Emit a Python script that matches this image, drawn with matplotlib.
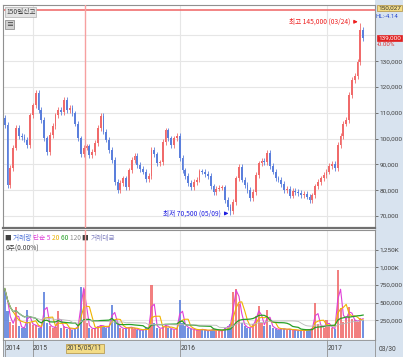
import matplotlib
matplotlib.use("Agg")
import matplotlib.pyplot as plt
from matplotlib.patches import Rectangle
import pandas as pd
import numpy as np

plt.rcParams['font.family'] = ['Noto Sans CJK KR', 'DejaVu Sans']
NARROW = ['Liberation Sans Narrow', 'Roboto', 'DejaVu Sans']

# weekly closes (thousand won), 2014-10-24 .. 2017-03-30
close = [105.3, 82.0, 88.6, 96.4, 104.1, 101.0, 100.6, 99.5, 97.5, 109.1,
         113.0, 117.7, 111.1, 107.2, 100.2, 94.8, 101.4, 104.9, 109.1, 111.1,
         110.3, 115.0, 111.1, 111.9, 109.9, 105.7, 100.2, 94.0, 96.4, 97.1,
         93.6, 94.8, 98.3, 104.1, 108.8, 102.6, 99.5, 95.6, 91.7, 83.2,
         80.1, 82.8, 84.7, 81.2, 87.8, 91.7, 93.3, 89.8, 88.2, 87.1,
         84.3, 85.5, 95.6, 94.0, 90.5, 90.9, 98.7, 103.3, 100.2, 97.5,
         100.2, 101.0, 92.5, 87.8, 85.5, 82.8, 81.2, 83.2, 84.0, 87.4,
         87.1, 86.3, 85.5, 81.6, 79.3, 80.5, 80.9, 81.2, 76.2, 73.5,
         71.9, 75.4, 84.7, 89.0, 84.0, 82.0, 80.1, 77.0, 79.3, 85.9,
         90.5, 91.3, 90.9, 94.4, 89.4, 87.1, 84.7, 84.0, 82.4, 80.1,
         80.5, 77.8, 79.7, 79.3, 78.9, 78.1, 78.5, 77.4, 76.2, 78.1,
         81.6, 83.2, 84.7, 85.9, 87.1, 89.4, 90.2, 88.6, 97.5, 101.0,
         105.7, 107.2, 116.9, 122.7, 124.3, 129.7, 142.1, 139.0]
first_open = 108.0

# weekly volume (thousand shares)
volume = [700, 380, 230, 190, 440, 170, 150, 140, 400, 210,
          190, 180, 150, 140, 650, 220, 170, 150, 160, 380,
          140, 170, 130, 140, 120, 150, 170, 720, 700, 210,
          150, 130, 140, 170, 190, 160, 150, 170, 466, 260,
          180, 150, 130, 140, 160, 150, 130, 120, 110, 120,
          140, 130, 750, 210, 150, 130, 160, 200, 140, 130,
          120, 140, 540, 220, 170, 140, 130, 120, 110, 120,
          130, 110, 100, 120, 130, 110, 100, 110, 150, 170,
          200, 650, 700, 480, 220, 170, 140, 150, 200, 320,
          450, 210, 170, 400, 190, 150, 130, 120, 140, 130,
          120, 130, 110, 120, 100, 110, 120, 110, 130, 140,
          494, 200, 170, 150, 250, 170, 140, 130, 960, 420,
          230, 300, 440, 270, 250, 230, 290, 260]

dates = pd.date_range("2014-10-24", periods=len(close), freq="7D")
year_marks = ["2015-01-01", "2016-01-01", "2017-01-01"]
cursor_date = "2015-05-11"

hi_val, hi_date = 145.0, "03/24"
lo_val, lo_date = 70.5, "05/09"
line_150 = 150.027
last_close = 139.0

price_ticks = [70, 80, 90, 100, 110, 120, 130]
vol_ticks = [250, 500, 750, 1000, 1250]
vol_tick_labels = ["250,000", "500,000", "750,000", "1,000K", "1,250K"]


def date_pos(d):
    return (pd.Timestamp(d) - dates[0]).days / 7.0


W, H = 403, 357
fig = plt.figure(figsize=(W / 100, H / 100), dpi=100)
fig.patch.set_facecolor("white")

# right axis strip
fig.add_artist(Rectangle((375 / W, 0), 28 / W, 1, transform=fig.transFigure,
                         facecolor="#d8e3ef", edgecolor="none", zorder=0))

ax = fig.add_axes([3 / W, 1 - 228 / H, 372 / W, 223 / H])
axv = fig.add_axes([3 / W, 1 - 340 / H, 372 / W, 110 / H])
axd = fig.add_axes([3 / W, 0, 372 / W, 17 / H])

xs = np.arange(len(close))
opens = [first_open] + close[:-1]
up = [c >= o for o, c in zip(opens, close)]
red, blue = "#f06a6a", "#5b7fdc"
cols = [red if u else blue for u in up]

x0, x1 = -0.6, 131.2
for a in (ax, axv, axd):
    a.set_xlim(x0, x1)

# price candles
bot = [min(o, c) for o, c in zip(opens, close)]
top = [max(o, c) for o, c in zip(opens, close)]
hgt = [max(t - b, 0.3) for t, b in zip(top, bot)]
wlo = [b - 1.0 for b in bot]
whi = [t + 1.0 for t in top]
ih = int(np.argmax(close))
il = int(np.argmin(close))
whi[ih] = hi_val
wlo[il] = lo_val
ax.vlines(xs, wlo, whi, colors=cols, linewidth=0.6, zorder=3)
ax.bar(xs, hgt, bottom=bot, width=0.65, color=cols, linewidth=0, zorder=4)

ax.set_ylim(65.35, 151.8)
for p in range(70, 150, 10):
    ax.axhline(p, color="#e6e6e6", linewidth=0.8, zorder=1)
for d in year_marks:
    for a in (ax, axv):
        a.axvline(date_pos(d), color="#e6e6e6", linewidth=0.8, zorder=1)
ax.axhline(line_150, color="#f07070", linewidth=1.2, zorder=2)
for a in (ax, axv):
    a.axvline(date_pos(cursor_date), color="#f6a0a0", linewidth=1.0, zorder=5)

ax.set_yticks(price_ticks)
ax.set_yticklabels([f"{p * 1000:,}" for p in price_ticks], family=NARROW)
ax.yaxis.tick_right()
ax.tick_params(axis="y", length=2.5, width=0.6, colors="#606060",
               labelsize=4.6, pad=0.8, labelcolor="#404040")
ax.set_xticks([])

# annotations for high/low
ax.annotate("", xy=(ih + 0.1, hi_val + 0.3), xytext=(ih - 3.2, hi_val + 0.3),
            arrowprops=dict(arrowstyle="-|>", color="#ee2020", lw=0.8,
                            mutation_scale=5), zorder=6)
ax.text(ih - 3.6, hi_val + 0.3, f"최고 {hi_val * 1000:,.0f} ({hi_date})",
        color="#ee2020", fontsize=4.8, ha="right", va="center")
ax.annotate("", xy=(il + 0.3, lo_val + 0.5), xytext=(il - 3.0, lo_val + 0.5),
            arrowprops=dict(arrowstyle="-|>", color="#2020e0", lw=0.8,
                            mutation_scale=5), zorder=6)
ax.text(il - 3.4, lo_val + 0.5, f"최저 {lo_val * 1000:,.0f} ({lo_date})",
        color="#2020e0", fontsize=4.8, ha="right", va="center")

# right side boxes
fig.text(378 / W, 1 - 8 / H, f"{line_150 * 1000:,.0f}", fontsize=4.6,
         family=NARROW, color="#303030", va="center",
         bbox=dict(boxstyle="square,pad=0.15", facecolor="#f3dc86",
                   edgecolor="#b09040", linewidth=0.5))
fig.text(376 / W, 1 - 16 / H, "HL:-4.14", fontsize=4.4, family=NARROW,
         color="#3050d0", va="center")
fig.text(378 / W, 1 - 38 / H, f"{last_close * 1000:,.0f}", fontsize=4.6,
         family=NARROW, color="white", va="center",
         bbox=dict(boxstyle="square,pad=0.15", facecolor="#e02020",
                   edgecolor="#e02020", linewidth=0.5))
fig.text(377 / W, 1 - 45 / H, "-0.00%", fontsize=4.4, family=NARROW,
         color="#e03030", va="center")

# top-left label
ax.text(0.008, 0.985, "150일신고", transform=ax.transAxes, fontsize=4.8,
        color="#404040", va="top",
        bbox=dict(boxstyle="square,pad=0.15", facecolor="#e4e4e4",
                  edgecolor="#b0b0b0", linewidth=0.5))
ax.text(0.008, 0.93, "≡", transform=ax.transAxes, fontsize=5,
        color="#404040", va="top",
        bbox=dict(boxstyle="square,pad=0.1", facecolor="#d0d0d0",
                  edgecolor="#808080", linewidth=0.5))

# volume panel
vs = pd.Series(volume, dtype=float)
axv.bar(xs, volume, width=0.75, color=cols, linewidth=0, zorder=3, alpha=0.85)
ma_specs = [(2, "#e040d8", 0.8), (4, "#f0b400", 0.8), (12, "#28a028", 0.9),
            (24, "#b8b8b8", 0.6)]
for win, c, lw in ma_specs:
    axv.plot(xs, vs.rolling(win, min_periods=1).mean(), color=c,
             linewidth=lw, zorder=4)
axv.set_ylim(-25, 1525)
for v in vol_ticks:
    axv.axhline(v, color="#e6e6e6", linewidth=0.8, zorder=1)
axv.set_yticks(vol_ticks)
axv.set_yticklabels(vol_tick_labels, family=NARROW)
axv.yaxis.tick_right()
axv.tick_params(axis="y", length=2.5, width=0.6, colors="#606060",
                labelsize=4.6, pad=0.8, labelcolor="#404040")
axv.set_xticks([])

legend_items = [("■ ", "#404040"), ("거래량 ", "#4a70d8"), ("단순 5 ", "#e040d8"),
                ("20 ", "#e8b000"), ("60 ", "#28a028"), ("120 ", "#909090"),
                ("■ ", "#404040"), ("거래대금", "#8080c0")]
fig.canvas.draw()
tx = 0.006
for s, c in legend_items:
    t = axv.text(tx, 0.965, s, transform=axv.transAxes, fontsize=4.8,
                 color=c, va="top")
    bb = t.get_window_extent(renderer=fig.canvas.get_renderer())
    tx += bb.width / axv.get_window_extent().width
axv.text(0.006, 0.87, "0주(0.00%)", transform=axv.transAxes, fontsize=4.8,
         color="#404040", va="top")

for a in (ax, axv):
    for side in ("top", "bottom", "left", "right"):
        a.spines[side].set_color("#909090")
        a.spines[side].set_linewidth(0.8)
ax.spines["bottom"].set_linewidth(1.6)
ax.spines["bottom"].set_color("#707070")

# date strip
axd.set_facecolor("#d8e3ef")
axd.set_ylim(0, 1)
axd.set_xticks([])
axd.set_yticks([])
for side in ("top", "bottom", "left", "right"):
    axd.spines[side].set_color("#909090")
    axd.spines[side].set_linewidth(0.6)
axd.vlines([date_pos(d) for d in year_marks] + [0.0], 0, 1,
           colors="#909090", linewidth=0.6)
axd.text(0.2, 0.5, "2014", fontsize=4.8, family=NARROW, color="#404040",
         va="center")
for d in year_marks:
    axd.text(date_pos(d) + 0.2, 0.5, d[:4], fontsize=4.8, family=NARROW,
             color="#404040", va="center")
axd.text(date_pos(cursor_date), 0.5, cursor_date.replace("-", "/"),
         fontsize=4.8, family=NARROW, color="#404040", va="center",
         ha="center",
         bbox=dict(boxstyle="square,pad=0.2", facecolor="#f3dc86",
                   edgecolor="#b09040", linewidth=0.5))
fig.text(379 / W, 8 / H, "03/30", fontsize=4.8, family=NARROW,
         color="#404040", va="center")

fig.savefig("out.png", dpi=100)
